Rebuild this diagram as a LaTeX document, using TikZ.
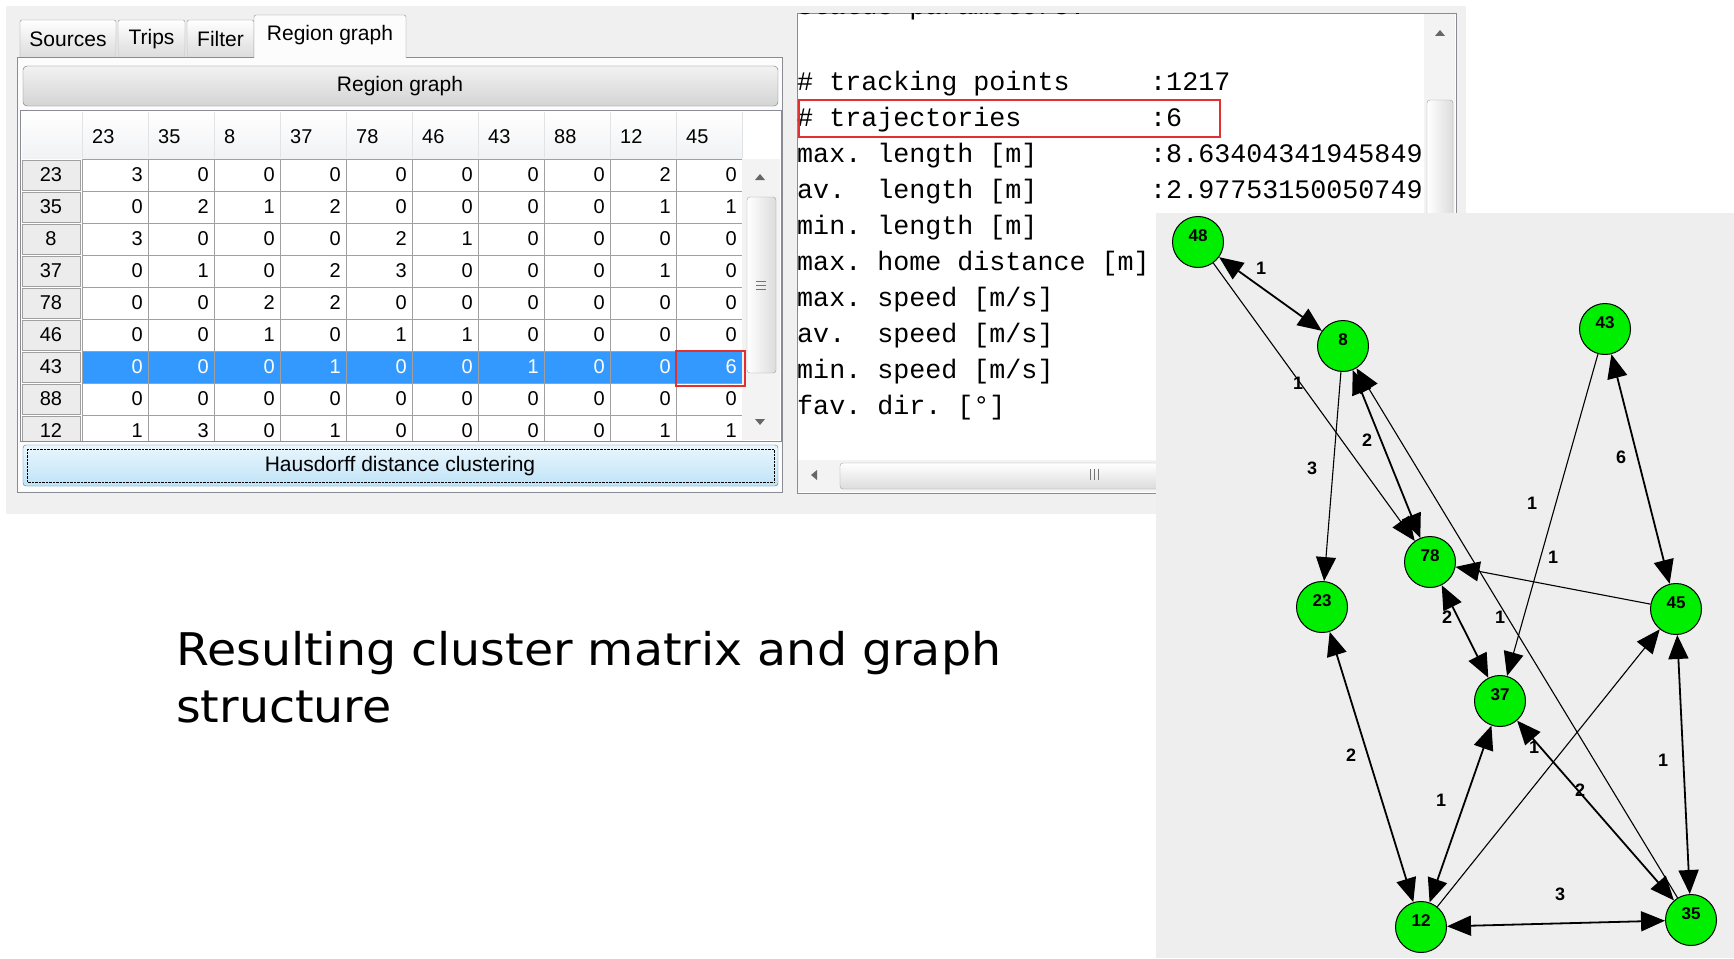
\documentclass[tikz,border=0pt]{standalone}
\usepackage{graphicx}
\usepackage{fontspec}
\setmainfont{Liberation Sans}
\newfontfamily\monofont{Liberation Mono}
\newfontfamily\captionfont{DejaVu Sans}
\usetikzlibrary{arrows.meta}

\definecolor{winbg}{HTML}{F0F0F0}
\definecolor{tabedge}{HTML}{898C95}
\definecolor{tabgray}{HTML}{DCDCDC}
\definecolor{pagewhite}{HTML}{FCFCFC}
\definecolor{btntop}{HTML}{F2F2F2}
\definecolor{btnbot}{HTML}{D4D4D4}
\definecolor{btnedge}{HTML}{707070}
\definecolor{hdrgray}{HTML}{F1F2F4}
\definecolor{hdrline}{HTML}{E2E3E5}
\definecolor{gridgray}{HTML}{A0A0A0}
\definecolor{rowhdr}{HTML}{ECECEC}
\definecolor{trackgray}{HTML}{F3F3F3}
\definecolor{selblue}{HTML}{3399FF}
\definecolor{blueedge}{HTML}{3C7FB1}
\definecolor{bluetop}{HTML}{EAF6FD}
\definecolor{bluebot}{HTML}{BFE3F7}
\definecolor{graphbg}{HTML}{EEEEEE}
\definecolor{nodegreen}{HTML}{00EE00}
\definecolor{markred}{HTML}{E03030}

\tikzset{
  ui/.style={font=\fontsize{21}{24}\selectfont, inner sep=0pt},
  cell/.style={font=\fontsize{20}{24}\selectfont, inner sep=0pt, anchor=east},
  mono/.style={font=\monofont\frenchspacing\fontsize{26.7}{30}\selectfont, inner sep=0pt, anchor=base west},
  clus/.style={circle, draw=black, line width=1pt, fill=nodegreen, minimum size=51pt, inner sep=0pt},
  weight/.style={font=\bfseries\fontsize{18}{20}\selectfont, inner sep=0pt},
  thumb/.style={draw=gridgray, rounded corners=3pt, left color=white, right color=tabgray},
}

\begin{document}
\begin{tikzpicture}[x=1pt,y=-1pt,>={Triangle[length=24pt,width=20pt]}]
  \useasboundingbox (0,0) rectangle (1734,958);
  \fill[white] (0,0) rectangle (1734,958);
  \fill[winbg] (6,6) rectangle (1466,514);

  % tabs and tab page
  \draw[tabedge, fill=pagewhite] (17,57) rectangle (782,492);
  \foreach \t/\a/\b in {Sources/20/116,Trips/118/185,Filter/187/254}
  {
    \path[draw=tabedge, top color=white, bottom color=tabgray, rounded corners=2pt] (\a,57) -- (\a,20) -- (\b,20) -- (\b,57);
    \node[ui] (tab\t) at ({(\a+\b)/2},39) {\t};
  }
  \path[draw=tabedge, fill=pagewhite, rounded corners=2pt] (254,58) -- (254,15) -- (406,15) -- (406,58);
  \node[ui] (tabRegion) at (330,35) {Region graph};

  \path[draw=btnedge, rounded corners=4pt, top color=btntop, bottom color=btnbot] (23,66) rectangle (778,106);
  \node[ui] (graphbtn) at (400,86) {Region graph};

  % cluster matrix
  \draw[tabedge, fill=white] (20,110) rectangle (781,441);
  \path[top color=white, bottom color=hdrgray] (22,112) rectangle (742,158);
  \foreach \c in {0,...,10}
  {
    \draw[hdrline] (82+66*\c,112) -- (82+66*\c,158);
  }
  \foreach \h [count=\c from 0] in {23,35,8,37,78,46,43,88,12,45}
  {
    \node[ui, font=\fontsize{20}{24}\selectfont, anchor=west] (col\c) at (82+66*\c+10,137) {\h};
  }
  \fill[trackgray] (743,159) rectangle (780,440);
  \fill[black!60] (755,180) -- (765,180) -- (760,174) -- cycle;
  \fill[black!60] (755,419) -- (765,419) -- (760,425) -- cycle;
  \path[thumb] (747,197) rectangle (776,373);
  \foreach \g in {281,285,289}
  {
    \draw[black!55] (756,\g) -- (766,\g);
  }

  \begin{scope}
    \clip (21,111) rectangle (742,440);
    \fill[selblue] (82,351) rectangle (742,383);
    \foreach \r/\vals [count=\k from 0] in {23/{3,0,0,0,0,0,0,0,2,0},35/{0,2,1,2,0,0,0,0,1,1},8/{3,0,0,0,2,1,0,0,0,0},37/{0,1,0,2,3,0,0,0,1,0},78/{0,0,2,2,0,0,0,0,0,0},46/{0,0,1,0,1,1,0,0,0,0},43/{0,0,0,1,0,0,1,0,0,6},88/{0,0,0,0,0,0,0,0,0,0},12/{1,3,0,1,0,0,0,0,1,1}}
    {
      \pgfmathtruncatemacro\yt{159+32*\k}
      \ifnum\k=6 \def\tc{white}\else\def\tc{black}\fi
      \path[draw=gridgray, fill=rowhdr] (22,\yt+1) rectangle (80,\yt+31);
      \node[cell, anchor=center] (row\k) at (51,\yt+16) {\r};
      \foreach \v [count=\c] in \vals
      {
        \node[cell, text=\tc] (v\k-\c) at (82+66*\c-5,\yt+16) {\v};
      }
    }
    \foreach \c in {0,...,10}
    {
      \draw[gridgray] (82+66*\c,159) -- (82+66*\c,441);
    }
    \foreach \k in {0,...,9}
    {
      \draw[gridgray] (82,159+32*\k) -- (742,159+32*\k);
    }
  \end{scope}
  \draw[markred, line width=2pt] (676,351) rectangle (745,386);

  \path[draw=blueedge, rounded corners=3pt, top color=bluetop, bottom color=bluebot] (23,445) rectangle (778,486);
  \draw[densely dotted] (27,449) rectangle (774,482);
  \node[ui] (clusterbtn) at (400,466) {Hausdorff distance clustering};

  % result text box
  \draw[tabedge, fill=white] (797,13) rectangle (1456,493);
  \begin{scope}
    \clip (798,14) rectangle (1423,459);
    \node[mono] (head) at (797,15) {Status parameters:};
  \end{scope}
  \foreach \t/\v [count=\i from 0] in {{\# tracking points}/{:1217},{\# trajectories}/{:6},{max. length [m]}/{:8.63404341945849},{av.~~length [m]}/{:2.97753150050749},{min. length [m]}/{},{max. home distance [m]}/{},{max. speed [m/s]}/{},{av.~~speed [m/s]}/{},{min. speed [m/s]}/{},{fav. dir. [°]}/{}}
  {
    \node[mono] (par\i) at (797,90+36*\i) {\t};
    \node[mono] (val\i) at (1150,90+36*\i) {\v};
  }
  \draw[markred, line width=1.5pt] (799,100) rectangle (1220,137);

  \fill[trackgray] (1424,14) rectangle (1455,459);
  \fill[black!60] (1435,36) -- (1445,36) -- (1440,30) -- cycle;
  \path[thumb] (1427,100) rectangle (1453,400);
  \fill[trackgray] (798,460) rectangle (1424,492);
  \fill[black!60] (817,470) -- (817,480) -- (811,475) -- cycle;
  \path[thumb, top color=white, bottom color=tabgray] (840,463) rectangle (1350,489);
  \foreach \g in {1090,1094,1098}
  {
    \draw[black!55] (\g,469) -- (\g,480);
  }

  % region graph
  \fill[graphbg] (1156,213) rectangle (1734,958);
  \foreach \n/\x/\y in {48/1198/242,8/1343/346,43/1605/329,78/1430/562,23/1322/607,45/1676/609,37/1500/701,12/1421/927,35/1691/920}
  {
    \node[clus, label={[font=\bfseries\fontsize{17}{18}\selectfont, yshift=6pt]center:\n}] (g\n) at (\x,\y) {};
  }
  \foreach \a/\b in {48/8,8/78,43/45,78/37,23/12,12/37,37/35,45/35,12/35}
  {
    \draw[<->, line width=1.8pt] (g\a) -- (g\b);
  }
  \foreach \a/\b in {48/78,8/23,35/8,43/37,45/78,12/45}
  {
    \draw[->, line width=1.1pt] (g\a) -- (g\b);
  }
  \foreach \t/\x/\y [count=\i] in {1/1261/268,1/1298/383,2/1367/440,3/1312/468,1/1532/503,6/1621/457,1/1553/557,2/1447/617,1/1500/617,2/1351/755,1/1441/800,1/1534/747,2/1580/790,1/1663/760,3/1560/894}
  {
    \node[weight] (w\i) at (\x,\y) {\t};
  }

  \node[anchor=base west, inner sep=0pt, font=\captionfont\fontsize{45}{57}\selectfont] (cap1) at (176,665) {\scalebox{1.055}[1]{Resulting cluster matrix and graph}};
  \node[anchor=base west, inner sep=0pt, font=\captionfont\fontsize{45}{57}\selectfont] (cap2) at (176,722) {\scalebox{1.055}[1]{structure}};
\end{tikzpicture}
\end{document}
